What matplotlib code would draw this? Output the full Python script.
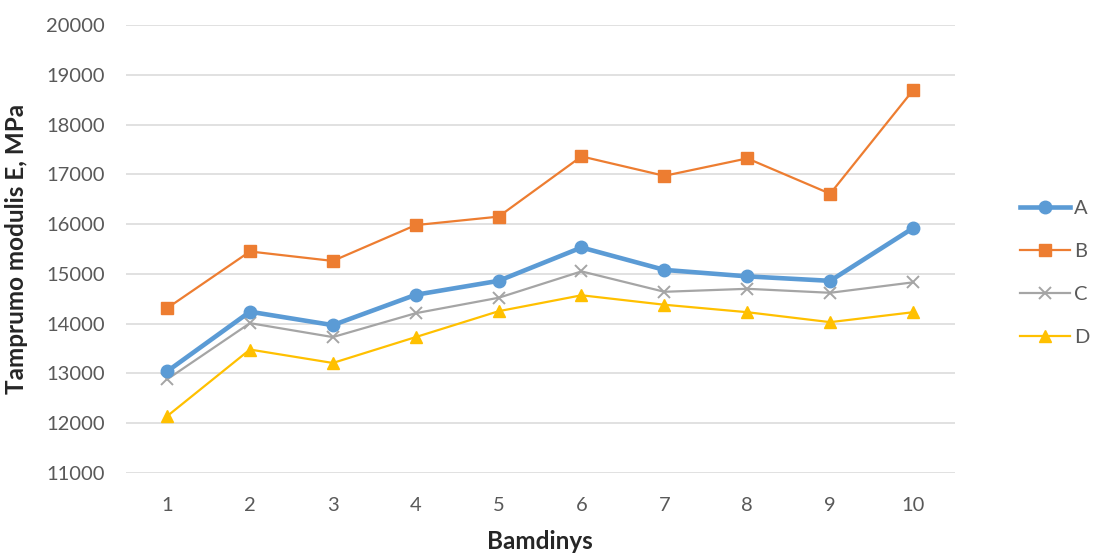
import numpy as np
import matplotlib.pyplot as plt

plt.rcParams['font.family'] = ['Lato', 'DejaVu Sans']

bandiniai = [1, 2, 3, 4, 5, 6, 7, 8, 9, 10]
serija_a = [13040, 14240, 13970, 14580, 14860, 15530, 15080, 14950, 14860, 15920]
serija_b = [14310, 15450, 15260, 15980, 16150, 17360, 16970, 17320, 16610, 18690]
serija_c = [12880, 14010, 13730, 14210, 14520, 15050, 14640, 14700, 14620, 14830]
serija_d = [12140, 13480, 13210, 13730, 14250, 14570, 14380, 14230, 14030, 14230]

fig = plt.figure(figsize=(10.94, 5.53), dpi=100)
ax = fig.add_axes([0.1148, 0.1447, 0.7577, 0.8101])

ax.plot(bandiniai, serija_a, color='#5B9BD5', marker='o', markersize=9, linewidth=3.3, label='A', zorder=5)
ax.plot(bandiniai, serija_b, color='#ED7D31', marker='s', markersize=8, linewidth=1.6, label='B', zorder=4)
ax.plot(bandiniai, serija_c, color='#A5A5A5', marker='x', markersize=9, markeredgewidth=1.4, linewidth=1.6, label='C', zorder=3)
ax.plot(bandiniai, serija_d, color='#FFC000', marker='^', markersize=9, linewidth=1.6, label='D', zorder=2)

ax.set_xlim(0.5, 10.5)
ax.set_ylim(11000, 20000)
ax.set_xticks(bandiniai)
ax.set_yticks(np.arange(11000, 20001, 1000))
ax.grid(axis='y', color='#D9D9D9', linewidth=1.1)
ax.set_axisbelow(True)
for s in ax.spines.values():
    s.set_visible(False)
ax.tick_params(axis='both', length=0, labelsize=14.5, colors='#595959')
ax.tick_params(axis='y', pad=15)
ax.tick_params(axis='x', pad=17)

ax.set_ylabel('Tamprumo modulis E, MPa', fontsize=17.5, fontweight='bold', color='#262626')
ax.yaxis.set_label_coords(-0.118, 0.5)
ax.set_xlabel('Bamdinys', fontsize=17.5, fontweight='bold', color='#262626')
ax.xaxis.set_label_coords(0.5, -0.127)

fig.legend(loc='center left', bbox_to_anchor=(1020 / 1094, 1 - 273 / 553), frameon=False,
           fontsize=14.5, handlelength=2.5, handletextpad=0.2, labelspacing=1.3,
           borderpad=0, borderaxespad=0, labelcolor='#595959')

plt.savefig('out.png', dpi=100)
